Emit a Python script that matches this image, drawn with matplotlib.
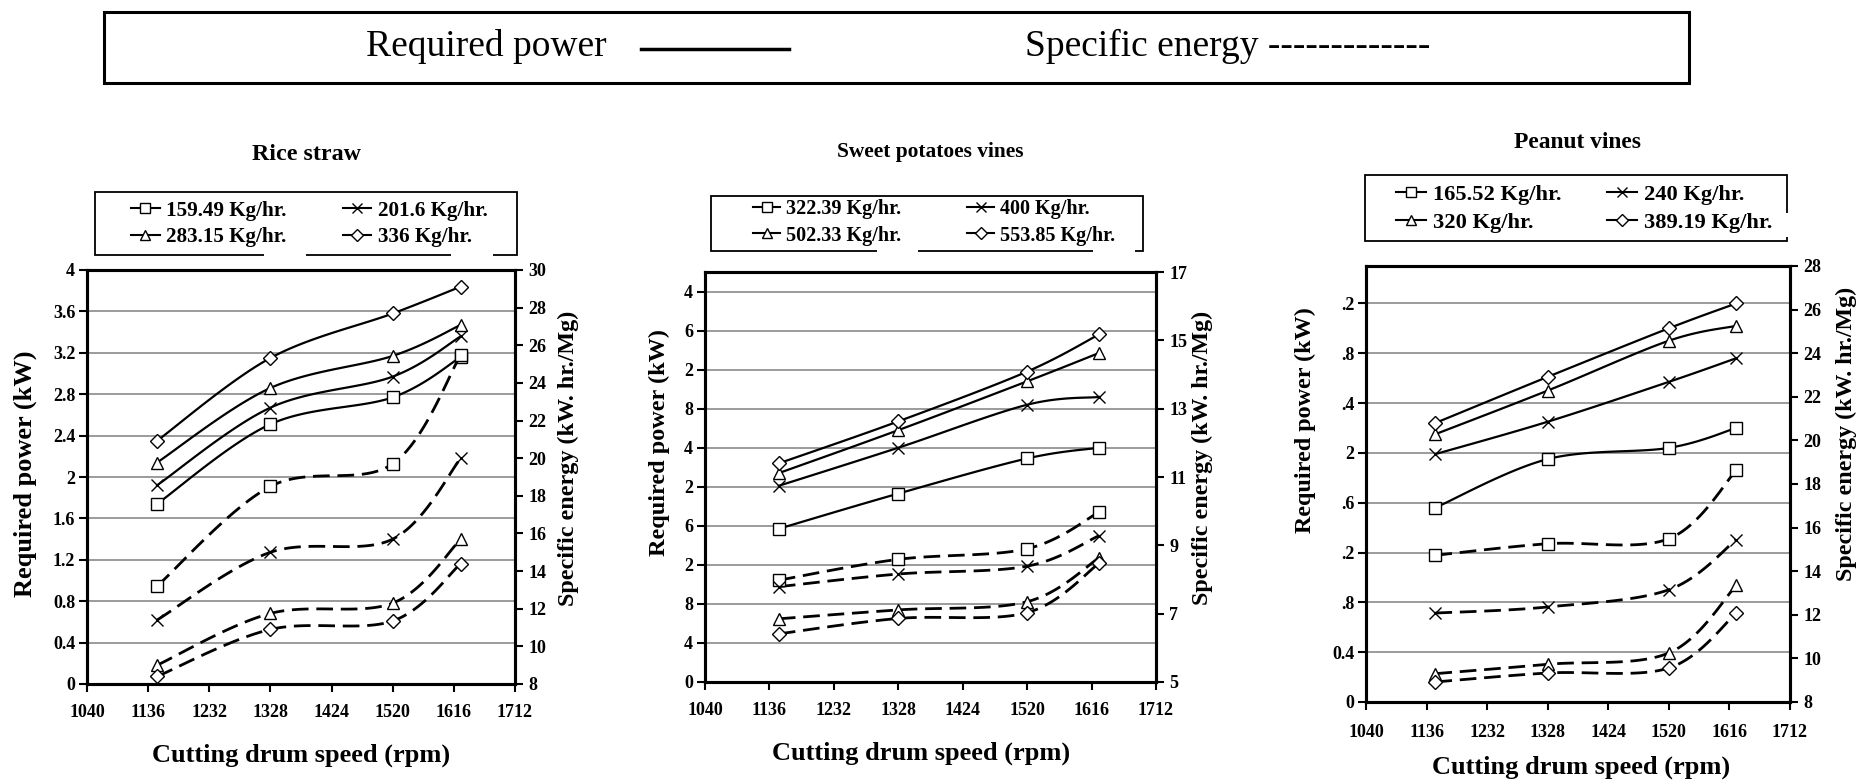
import numpy as np
import matplotlib
matplotlib.use('Agg')
import matplotlib.pyplot as plt
from matplotlib.lines import Line2D
from matplotlib.patches import Rectangle

plt.rcParams['font.family'] = ['Liberation Serif', 'DejaVu Serif']
plt.rcParams['font.weight'] = 'bold'

# ---------------- data ----------------
speed = [1150, 1328, 1520, 1627]
xticks = [1040, 1136, 1232, 1328, 1424, 1520, 1616, 1712]

rice_labels = ['159.49 Kg/hr.', '201.6 Kg/hr.', '283.15 Kg/hr.', '336 Kg/hr.']
rice_power_159 = [1.74, 2.51, 2.77, 3.16]
rice_power_201 = [1.92, 2.67, 2.97, 3.36]
rice_power_283 = [2.14, 2.86, 3.17, 3.47]
rice_power_336 = [2.35, 3.15, 3.58, 3.84]
rice_energy_159 = [13.2, 18.5, 19.7, 25.5]
rice_energy_201 = [11.4, 15.0, 15.7, 20.0]
rice_energy_283 = [9.0, 11.75, 12.3, 15.7]
rice_energy_336 = [8.4, 10.9, 11.35, 14.4]

sweet_labels = ['322.39 Kg/hr.', '400 Kg/hr.', '502.33 Kg/hr.', '553.85 Kg/hr.']
sweet_power_322 = [1.57, 1.93, 2.29, 2.40]
sweet_power_400 = [2.01, 2.40, 2.84, 2.92]
sweet_power_502 = [2.14, 2.58, 3.08, 3.37]
sweet_power_553 = [2.24, 2.67, 3.18, 3.56]
sweet_energy_322 = [7.98, 8.59, 8.90, 9.97]
sweet_energy_400 = [7.79, 8.16, 8.39, 9.28]
sweet_energy_502 = [6.85, 7.11, 7.35, 8.63]
sweet_energy_553 = [6.41, 6.86, 7.03, 8.47]

peanut_labels = ['165.52 Kg/hr.', '240 Kg/hr.', '320 Kg/hr.', '389.19 Kg/hr.']
peanut_power_165 = [1.56, 1.95, 2.04, 2.20]
peanut_power_240 = [1.99, 2.25, 2.57, 2.76]
peanut_power_320 = [2.15, 2.50, 2.90, 3.02]
peanut_power_389 = [2.24, 2.61, 3.00, 3.20]
peanut_energy_165 = [14.73, 15.26, 15.49, 18.63]
peanut_energy_240 = [12.08, 12.36, 13.15, 15.45]
peanut_energy_320 = [9.30, 9.73, 10.25, 13.35]
peanut_energy_389 = [8.92, 9.33, 9.56, 12.08]

rice_left_ticks = ['0', '0.4', '0.8', '1.2', '1.6', '2', '2.4', '2.8', '3.2', '3.6', '4']
sweet_left_ticks = ['0', '4', '8', '2', '6', '2', '4', '8', '2', '6', '4']
peanut_left_ticks = ['0', '0.4', '.8', '.2', '.6', '2', '.4', '.8', '.2']

markers = ['s', 'x', '^', 'D']
msizes = [8.5, 8.5, 8.5, 7.5]

W, H = 1858, 780
fig = plt.figure(figsize=(W / 100, H / 100), dpi=100)


def fx(px):
    return px / W


def fy(py):
    return 1 - py / H


def smooth(x, y, n=40):
    pts = np.column_stack([x, y]).astype(float)
    p = np.vstack([pts[0], pts, pts[-1]])
    out = []
    t = np.linspace(0, 1, n)[:, None]
    for i in range(1, len(p) - 2):
        p0, p1, p2, p3 = p[i - 1], p[i], p[i + 1], p[i + 2]
        seg = 0.5 * ((2 * p1) + (-p0 + p2) * t + (2 * p0 - 5 * p1 + 4 * p2 - p3) * t ** 2
                     + (-p0 + 3 * p1 - 3 * p2 + p3) * t ** 3)
        out.append(seg if i == 1 else seg[1:])
    s = np.vstack(out)
    return s[:, 0], s[:, 1]


def panel(rect, powers, energies, labels, lylim, lticks, lticklabels, rylim, rticks,
          title, tsize, title_xy, xl_xy, yl_xy, ylsize, yr_xy, yrsize,
          leg_box, leg_cols, leg_rows, legsize, gaps, xpad):
    l, t, r, b = rect
    ax = fig.add_axes([fx(l), fy(b), fx(r - l), (b - t) / H])
    ax2 = ax.twinx()
    ax.set_xlim(1040, 1712)
    ax.set_xticks(xticks)
    ax.set_ylim(*lylim)
    ax.set_yticks(lticks)
    ax.set_yticklabels(lticklabels)
    ax2.set_ylim(*rylim)
    ax2.set_yticks(rticks)
    ax.yaxis.grid(True, color='#808080', lw=1.1)
    ax.set_axisbelow(True)
    for a in (ax, ax2):
        for sp in a.spines.values():
            sp.set_linewidth(2.2)
        a.tick_params(direction='out', length=5.5, width=1.5, labelsize=13)
    ax.tick_params(axis='x', pad=xpad)
    ax.tick_params(axis='y', pad=3)
    ax2.tick_params(axis='y', pad=4)
    handles = []
    for pw, en, m, ms in zip(powers, energies, markers, msizes):
        sx, sy = smooth(speed, pw)
        ax.plot(sx, sy, color='k', lw=1.6, zorder=3)
        ax.plot(speed, pw, ls='none', marker=m, ms=ms, mfc='white', mec='k', mew=1.0, zorder=4)
        sx, sy = smooth(speed, en)
        ax2.plot(sx, sy, color='k', lw=2.0, dashes=(6, 2.8), zorder=3)
        ax2.plot(speed, en, ls='none', marker=m, ms=ms, mfc='white', mec='k', mew=1.0, zorder=4)
        handles.append(Line2D([], [], color='k', lw=1.5, marker=m, ms=6.5, mfc='white',
                              mec='k', mew=1.0))
    # legend frame
    bx0, by0, bx1, by1 = leg_box
    fig.patches.append(Rectangle((fx(bx0), fy(by1)), fx(bx1 - bx0), (by1 - by0) / H,
                                 transform=fig.transFigure, fill=False, ec='k', lw=1.3,
                                 zorder=5))
    for gx0, gy0, gx1, gy1 in gaps:
        fig.patches.append(Rectangle((fx(gx0), fy(gy1)), fx(gx1 - gx0), (gy1 - gy0) / H,
                                     transform=fig.transFigure, fc='white', ec='none',
                                     zorder=6))
    ymid = (leg_rows[0] + leg_rows[1]) / 2
    for ci, cx in enumerate(leg_cols):
        idx = [ci, ci + 2]
        fig.legend([handles[i] for i in idx], [labels[i] for i in idx],
                   loc='center left', bbox_to_anchor=(fx(cx), fy(ymid)),
                   fontsize=legsize, frameon=False, handlelength=1.35, handletextpad=0.3,
                   labelspacing=0.3, borderpad=0, borderaxespad=0)
    fig.text(fx(title_xy[0]), fy(title_xy[1]), title, ha='center', va='center', fontsize=tsize)
    fig.text(fx(xl_xy[0]), fy(xl_xy[1]), 'Cutting drum speed (rpm)', ha='center', va='center',
             fontsize=19)
    fig.text(fx(yl_xy[0]), fy(yl_xy[1]), 'Required power (kW)', ha='center', va='center',
             fontsize=ylsize, rotation=90)
    fig.text(fx(yr_xy[0]), fy(yr_xy[1]), 'Specific energy (kW. hr./Mg)', ha='center',
             va='center', fontsize=yrsize, rotation=90)
    return ax, ax2


panel((87, 270, 515, 684),
      [rice_power_159, rice_power_201, rice_power_283, rice_power_336],
      [rice_energy_159, rice_energy_201, rice_energy_283, rice_energy_336],
      rice_labels, (0, 4), np.arange(0, 4.01, 0.4), rice_left_ticks,
      (8, 30), np.arange(8, 31, 2), 'Rice straw', 17.3, (307, 154), (301, 755),
      (25, 474), 19, (568, 458), 17.4,
      (95, 192, 517, 255), (131, 343), (210, 238), 15.2,
      [(264, 252, 306, 258), (451, 252, 493, 258)], 9)

panel((705, 272, 1156, 682),
      [sweet_power_322, sweet_power_400, sweet_power_502, sweet_power_553],
      [sweet_energy_322, sweet_energy_400, sweet_energy_502, sweet_energy_553],
      sweet_labels, (0, 4.2), np.arange(0, 4.01, 0.4), sweet_left_ticks,
      (5, 17), np.arange(5, 18, 2), 'Sweet potatoes vines', 15.4, (930, 152), (921, 753),
      (659, 442), 17.5, (1202, 458), 17.3,
      (711, 196, 1143, 251), (753, 967), (208, 237), 14.5,
      [(877, 248, 918, 254), (1093, 248, 1135, 254)], 9)

panel((1366, 266, 1790, 702),
      [peanut_power_165, peanut_power_240, peanut_power_320, peanut_power_389],
      [peanut_energy_165, peanut_energy_240, peanut_energy_320, peanut_energy_389],
      peanut_labels, (0, 3.5), np.arange(0, 3.21, 0.4), peanut_left_ticks,
      (8, 28), np.arange(8, 29, 2), 'Peanut vines', 16.9, (1578, 143), (1581, 767),
      (1305, 420), 17.4, (1846, 434), 17.3,
      (1365, 175, 1787, 241), (1396, 1607), (194, 223), 16.2,
      [(1784, 213, 1790, 237)], 10.5)

# ---------------- top legend box ----------------
fig.patches.append(Rectangle((fx(104), fy(83)), fx(1689 - 104), (83 - 12) / H,
                             transform=fig.transFigure, fill=False, ec='k', lw=2.2))
fig.text(fx(486), fy(46), 'Required power', ha='center', va='center', fontsize=27,
         fontweight='normal')
fig.lines.append(Line2D([fx(641), fx(789)], [fy(49), fy(49)], transform=fig.transFigure,
                        color='k', lw=2.5))
fig.text(fx(1025), fy(46), 'Specific energy -------------', ha='left', va='center',
         fontsize=27, fontweight='normal')

fig.savefig('out.png', dpi=100)
